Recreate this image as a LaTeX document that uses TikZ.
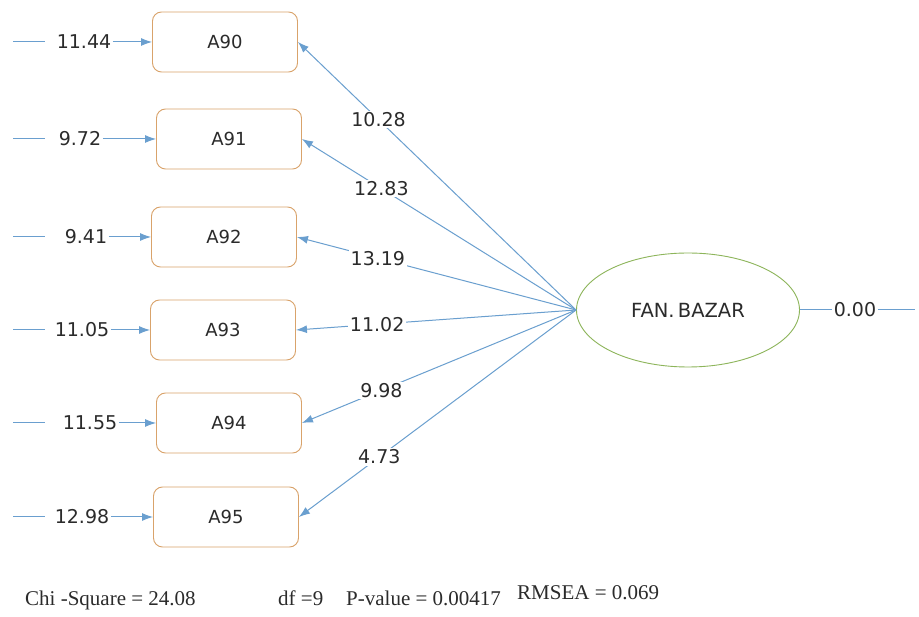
\documentclass[tikz,border=0pt]{standalone}
\usepackage{fontspec}
\setmainfont{DejaVu Sans}
\newfontfamily\fitfont{Liberation Serif}
\usetikzlibrary{arrows.meta,shapes.geometric}
\definecolor{lineblue}{HTML}{6A9FCF}
\definecolor{boxorange}{HTML}{D9A36B}
\definecolor{ellgreen}{HTML}{8DB55A}
\definecolor{txt}{HTML}{2B2B2B}
\tikzset{
  obsbox/.style={draw=boxorange, line width=0.9pt, rounded corners=9pt, minimum width=145pt, minimum height=60pt, inner sep=0pt, text=txt, font=\fontsize{18}{21}\selectfont},
  latent/.style={draw=ellgreen, line width=0.9pt, ellipse, minimum width=223pt, minimum height=114pt, inner sep=0pt, text=txt, font=\fontsize{19.5}{23}\selectfont},
  conn/.style={draw=lineblue, line width=1pt},
  arr/.style={conn, -{Latex[length=11pt,width=8pt]}},
  val/.style={fill=white, inner sep=1.5pt, text=txt, font=\fontsize{19}{22}\selectfont},
  fit/.style={text=txt, font=\fitfont\fontsize{21}{24}\selectfont, anchor=base west, inner sep=0pt}
}
\begin{document}
\begin{tikzpicture}[x=1pt,y=-1pt]
\useasboundingbox[fill=white] (0,0) rectangle (919,617);
% observed variables
\node[obsbox] (a90) at (225,42) {A90};
\node[obsbox] (a91) at (229,139) {A91};
\node[obsbox] (a92) at (224,237) {A92};
\node[obsbox] (a93) at (223,330) {A93};
\node[obsbox] (a94) at (229,423) {A94};
\node[obsbox] (a95) at (226,517) {A95};
% latent
\node[latent] (lat) at (688,310) {FAN.\,BAZAR};
% error terms
\foreach \n/\y/\v/\lx in {a90/42/11.44/84, a91/139/9.72/80, a92/237/9.41/86, a93/330/11.05/82, a94/423/11.55/90, a95/517/12.98/82}{
  \coordinate (s\n) at (13,\y);
  \coordinate (t\n) at (45,\y);
  \node[val, fill=none] (e\n) at (\lx,\y) {\v};
  \draw[conn] (s\n) -- (t\n);
  \draw[arr] (e\n.east) -- (\n.west);
}
% loadings
\foreach \n/\v in {a90/10.28, a91/12.83, a92/13.19, a93/11.02, a94/9.98, a95/4.73}{
  \draw[arr] (lat.west) -- node[val, pos=0.71] (l\n) {\v} (\n.east);
}
% latent error
\node[val] (z) at (855,310) {0.00};
\coordinate (zend) at (915,310);
\draw[conn] (lat.east) -- (z.west);
\draw[conn] (z.east) -- (zend);
% fit statistics
\node[fit] (chi) at (25,605) {Chi -Square = 24.08};
\node[fit] (df) at (278,605) {df =9};
\node[fit] (pv) at (346,605) {P-value = 0.00417};
\node[fit] (rm) at (517,599) {RMSEA = 0.069};
\end{tikzpicture}
\end{document}
